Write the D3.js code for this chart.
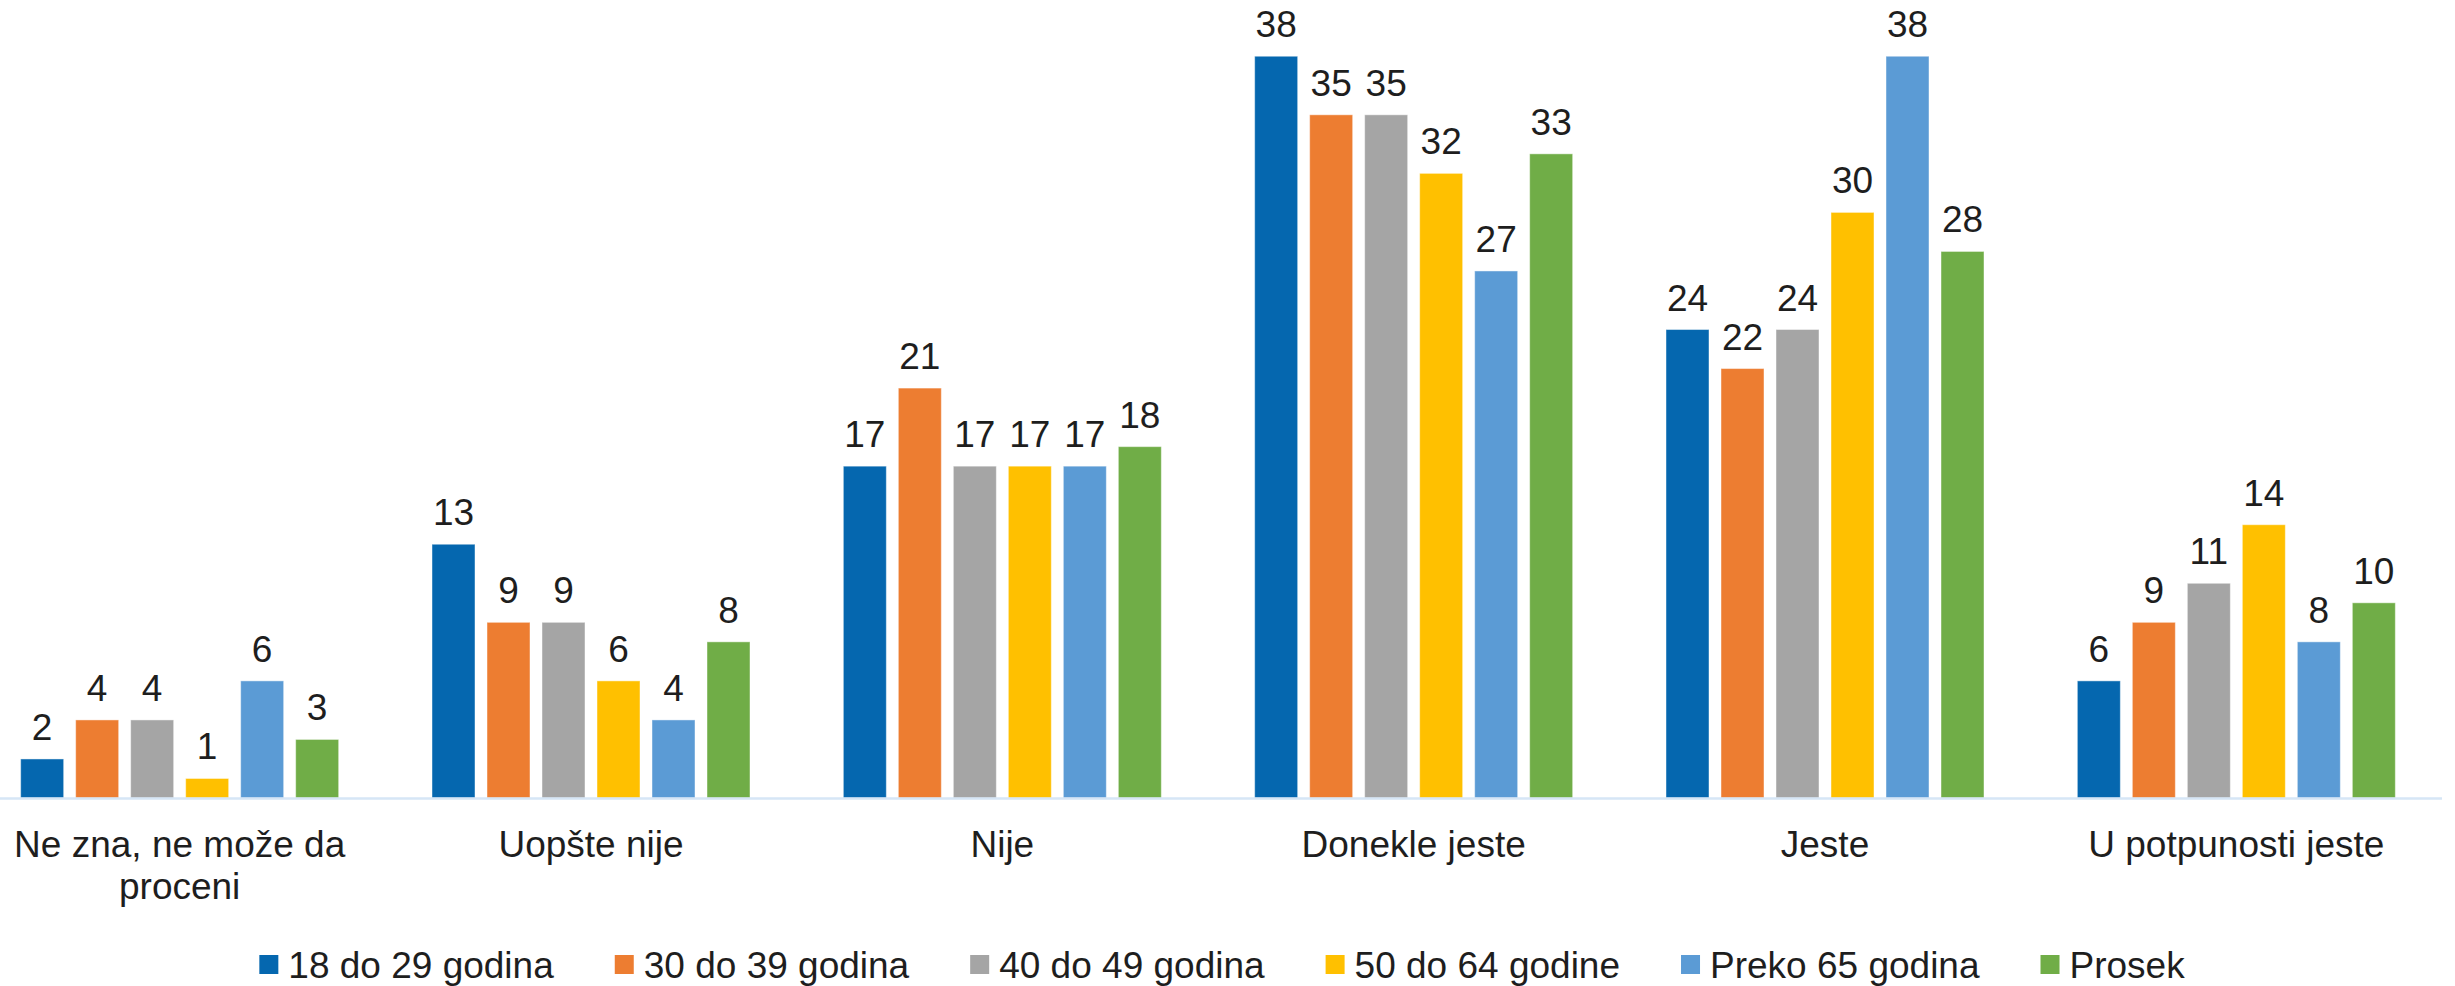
<!DOCTYPE html>
<html>
<head>
<meta charset="utf-8">
<script src="https://cdn.jsdelivr.net/npm/d3@7/dist/d3.min.js"></script>
<style>
  html, body { margin: 0; padding: 0; background: #fff; }
  svg { display: block; font-family: "Liberation Sans", Arial, sans-serif; }
</style>
</head>
<body>
<svg id="chart" width="2455" height="986"></svg>
<script>
var categories = ['Ne zna, ne može da proceni', 'Uopšte nije', 'Nije', 'Donekle jeste', 'Jeste', 'U potpunosti jeste'];
var seriesNames = ['18 do 29 godina', '30 do 39 godina', '40 do 49 godina', '50 do 64 godine', 'Preko 65 godina', 'Prosek'];
var s18to29 = [2, 13, 17, 38, 24, 6];
var s30to39 = [4, 9, 21, 35, 22, 9];
var s40to49 = [4, 9, 17, 35, 24, 11];
var s50to64 = [1, 6, 17, 32, 30, 14];
var sOver65 = [6, 4, 17, 27, 38, 8];
var prosek = [3, 8, 18, 33, 28, 10];
var colors = ['#0567AF', '#ED7D31', '#A5A5A5', '#FFC000', '#5B9BD5', '#70AD47'];

(function(){
    'use strict';

    var values = [s18to29, s30to39, s40to49, s50to64, sOver65, prosek],
        svg = d3.select('#chart'),
        baseY = 798,
        fontSize = 37,
        textColor = '#1e1e1e';

    var x0 = d3.scaleBand()
        .domain(categories)
        .range([-26, 2442]);

    var groupW = 318;
    var x1 = d3.scaleBand()
        .domain(seriesNames)
        .range([0, groupW])
        .paddingInner(12 / 55);

    var y = d3.scaleLinear()
        .domain([0, 40])
        .range([baseY, baseY - 40 * 19.52]);

    var groups = svg.append('g').selectAll('g.cat')
        .data(categories)
        .enter().append('g')
        .attr('class', 'cat')
        .attr('transform', function(c){
            return 'translate(' + (x0(c) + (x0.bandwidth() - groupW) / 2) + ',0)';
        });

    var cells = groups.selectAll('g.cell')
        .data(function(c, ci){
            return seriesNames.map(function(s, si){
                return { series: s, value: values[si][ci], color: colors[si] };
            });
        })
        .enter().append('g')
        .attr('class', 'cell');

    cells.append('rect')
        .attr('x', function(d){ return x1(d.series); })
        .attr('width', x1.bandwidth())
        .attr('y', function(d){ return y(d.value); })
        .attr('height', function(d){ return baseY - y(d.value); })
        .attr('fill', function(d){ return d.color; })
        .attr('stroke', 'rgba(255,255,255,0.45)')
        .attr('stroke-width', 1);

    cells.append('text')
        .attr('x', function(d){ return x1(d.series) + x1.bandwidth() / 2; })
        .attr('y', function(d){ return y(d.value) - 19; })
        .attr('text-anchor', 'middle')
        .attr('font-size', fontSize)
        .attr('fill', textColor)
        .text(function(d){ return d.value; });

    // category axis line
    svg.append('line')
        .attr('x1', x0.range()[0])
        .attr('x2', x0.range()[1])
        .attr('y1', baseY + 0.5)
        .attr('y2', baseY + 0.5)
        .attr('stroke', '#D6E6F6')
        .attr('stroke-width', 2.5);

    // category labels, wrapped to the band
    var maxW = 380;
    svg.append('g').selectAll('text.cat-label')
        .data(categories)
        .enter().append('text')
        .attr('class', 'cat-label')
        .attr('text-anchor', 'middle')
        .attr('font-size', fontSize)
        .attr('fill', textColor)
        .each(function(c){
            var t = d3.select(this),
                cx = x0(c) + x0.bandwidth() / 2,
                words = c.split(' '),
                line = [],
                lineNo = 0,
                tspan = t.append('tspan').attr('x', cx).attr('y', 857);
            words.forEach(function(w){
                line.push(w);
                tspan.text(line.join(' '));
                if ( tspan.node().getComputedTextLength() > maxW && line.length > 1 ){
                    line.pop();
                    tspan.text(line.join(' '));
                    line = [w];
                    lineNo++;
                    tspan = t.append('tspan').attr('x', cx).attr('y', 857 + lineNo * 42).text(w);
                }
            });
        });

    // legend
    var legend = svg.append('g'),
        lx = 0;
    seriesNames.forEach(function(s, i){
        var item = legend.append('g').attr('transform', 'translate(' + lx + ',0)');
        item.append('rect')
            .attr('x', 0).attr('y', 955)
            .attr('width', 19).attr('height', 19)
            .attr('fill', colors[i]);
        var txt = item.append('text')
            .attr('x', 29).attr('y', 978)
            .attr('font-size', fontSize)
            .attr('fill', textColor)
            .text(s);
        lx += 29 + txt.node().getComputedTextLength() + 61;
    });
    var legendW = lx - 61;
    legend.attr('transform', 'translate(' + (1222 - legendW / 2) + ',0)');
})();
</script>
</body>
</html>
